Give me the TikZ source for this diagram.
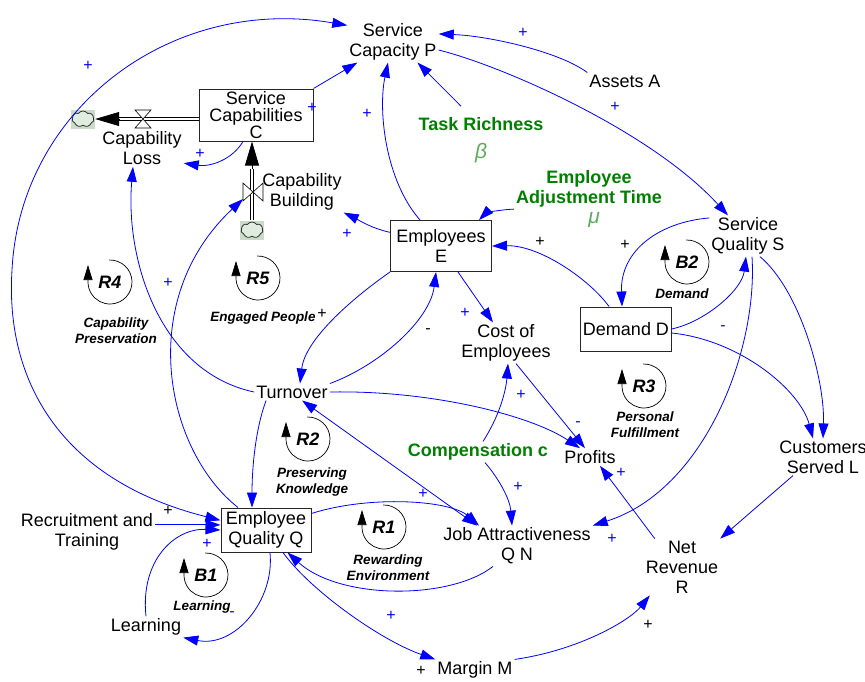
\documentclass[tikz,border=0pt]{standalone}
\usepackage{fontspec}
\setmainfont{Liberation Sans}
\usetikzlibrary{arrows.meta,shapes.symbols}
\definecolor{darkgreen}{RGB}{0,128,0}
\definecolor{greekgreen}{RGB}{95,170,95}
\definecolor{cloudgreen}{RGB}{200,220,200}
\definecolor{cloudlight}{RGB}{225,236,225}
\newcommand{\varfont}{\fontsize{18}{20}\selectfont}

\begin{document}
\begin{tikzpicture}
   [
      x=1pt, y=-1pt,
      >={Triangle[length=15pt,width=10pt]},
      var/.style={align=center, inner sep=2pt, font=\varfont},
      stock/.style={var, rectangle, draw=black!85, line width=1pt},
      param/.style={var, font=\varfont\bfseries, text=darkgreen},
      greek/.style={inner sep=1pt, font=\fontsize{21}{21}\selectfont\itshape, text=greekgreen},
      link/.style={->, draw=blue, line width=0.8pt},
      pipe/.style={draw=black, double=white, double distance=2.6pt, line width=0.7pt},
      flowtip/.style={-{Triangle[length=24pt,width=14pt]}, draw=black, line width=0.7pt},
      valve/.style={draw=black, fill=white, line width=0.6pt},
      cloudpad/.style={rectangle, fill=cloudgreen, minimum width=24pt, minimum height=19pt, inner sep=0pt},
      cloudy/.style={cloud, cloud puffs=7, cloud puff arc=110, aspect=1.5, draw=black!80, fill=cloudlight,
         line width=0.8pt, minimum width=22pt, minimum height=16pt, inner sep=0pt},
      loopline/.style={-{Triangle[length=15pt,width=9pt]}, draw=black, line width=0.7pt},
      loopname/.style={inner sep=0pt, font=\fontsize{18}{20}\selectfont\bfseries\itshape},
      loopsub/.style={align=center, inner sep=0pt, font=\fontsize{13.5}{16}\selectfont\bfseries\itshape},
      plus/.style={inner sep=0pt, text=blue, font=\fontsize{16}{16}\selectfont},
      plusk/.style={plus, text=black}
   ]
   \useasboundingbox (0,0) rectangle (865,681);

   % variables
   \node[var] (scp) at (393,42) {Service\\Capacity P};
   \node[var] (assets) at (625,81) {Assets A};
   \node[stock, minimum width=114pt, minimum height=52pt] (capab) at (256,115)
      {Service\\[-3pt]Capabilities\\[-3pt]C};
   \node[var] (loss) at (142,148) {Capability\\Loss};
   \node[var] (build) at (302,192) {Capability\\Building};
   \node[param] (task) at (481,124) {Task Richness};
   \node[greek] (beta) at (481,153) {β};
   \node[param] (adjust) at (589,189) {Employee\\Adjustment Time};
   \node[greek] (mu) at (594,220) {μ};
   \node[var] (sqs) at (748,236) {Service\\Quality S};
   \node[stock, minimum width=101pt, minimum height=51pt] (emp) at (441,246) {Employees\\E};
   \node[stock, minimum width=89pt, minimum height=44pt] (demand) at (626,329) {Demand D};
   \node[var] (cost) at (506,343) {Cost of\\Employees};
   \node[var] (turn) at (292,392) {Turnover};
   \node[var] (profits) at (590,457) {Profits};
   \node[param] (comp) at (478,452) {Compensation c};
   \node[var] (cust) at (823,457) {Customers\\Served L};
   \node[var] (ja) at (517,546) {Job Attractiveness\\Q N};
   \node[var] (net) at (682,567) {Net\\Revenue\\R};
   \node[stock, minimum width=90pt, minimum height=44pt] (eq) at (266,530) {Employee\\Quality Q};
   \node[var] (recruit) at (87,532) {Recruitment and\\Training};
   \node[var] (learn) at (146,627) {Learning};
   \node[var] (margin) at (475,670) {Margin M};

   % stock flows
   \node[cloudpad] (sink) at (83,119) {};
   \node[cloudy] (sinkcloud) at (sink) {};
   \node[cloudpad] (source) at (252,230) {};
   \node[cloudy] (sourcecloud) at (source) {};
   \coordinate (losstip) at (sink.east);
   \coordinate (buildtip) at (capab.south -| source);
   \coordinate (lvalve) at (143,119);
   \coordinate (bvalve) at (253,192);
   \draw[pipe] (capab.west |- sink) -- ([xshift=24pt]losstip);
   \draw[flowtip] ([xshift=24pt]losstip) -- (losstip);
   \draw[pipe] (source.north) -- ([yshift=-27pt]buildtip);
   \draw[flowtip] ([yshift=-27pt]buildtip) -- (buildtip);
   \filldraw[valve] (lvalve) ++(-8,-9) -- ++(16,0) -- ++(-16,18) -- ++(16,0) -- cycle;
   \filldraw[valve] (bvalve) ++(-10,-9) -- ++(0,18) -- ++(20,-18) -- ++(0,18) -- cycle;

   % causal links
   \draw[link, <->] (eq.168) .. controls (60,480) and (5,380) .. (12,270)
      .. controls (20,110) and (170,-5) .. (scp.160);
   \draw[link] (recruit.6) -- (recruit.6 -| eq.west);
   \draw[link] (learn.north) .. controls (140,560) and (175,528) .. (eq.west);
   \draw[link] (eq.-80) .. controls (275,600) and (235,648) .. (learn.south east);
   \draw[link] ([xshift=12pt]turn.south west) .. controls (255,430) and (252,470) .. ([xshift=-14pt]eq.north);
   \draw[link] ([xshift=-28pt]eq.north) .. controls (165,450) and (135,300) .. ([xshift=-10pt,yshift=-7pt]bvalve);
   \draw[link] (turn.west) .. controls (160,372) and (125,260) .. ([xshift=-9pt]loss.south);
   \draw[link] ([xshift=-13pt]capab.south) .. controls (232,160) and (210,167) .. (loss.-20);
   \draw[link] (capab.north east) -- (scp.-150);
   \draw[link] ([xshift=-21pt]emp.north) .. controls (385,180) and (378,110) .. ([xshift=-5pt]scp.south);
   \draw[link] ([xshift=-20pt,yshift=9pt]task.north) -- (scp.-40);
   \draw[link] (assets.north west) .. controls (560,52) and (490,36) .. (scp.10);
   \draw[link] (scp.-10) .. controls (500,65) and (650,130) .. ([xshift=-20pt]sqs.north);
   \draw[link] (emp.165) .. controls (370,228) and (355,218) .. (build.south east);
   \draw[link] (adjust.195) .. controls (495,210) and (485,214) .. ([xshift=38pt]emp.north);
   \draw[link] ([xshift=-17pt]demand.north) .. controls (590,280) and (540,245) .. (emp.east);
   \draw[link] (sqs.155) .. controls (660,222) and (620,250) .. ([xshift=-4pt]demand.north);
   \draw[link] (demand.east) .. controls (705,322) and (742,290) .. ([xshift=-2pt]sqs.south);
   \draw[link] (demand.-5) .. controls (740,340) and (800,390) .. ([xshift=-10pt]cust.north);
   \draw[link] (sqs.-60) .. controls (800,290) and (825,380) .. (cust.north);
   \draw[link] ([xshift=4pt]sqs.south) .. controls (758,350) and (705,490) .. (ja.north east);
   \draw[link] ([xshift=17pt]emp.south) -- ([xshift=-13pt]cost.north);
   \draw[link] (emp.south west) .. controls (350,300) and (305,340) .. ([xshift=8pt]turn.north);
   \draw[link] (turn.north east) .. controls (380,365) and (430,320) .. ([xshift=-5pt]emp.south);
   \draw[link] (turn.east) .. controls (430,390) and (530,415) .. ([xshift=-10pt]profits.north);
   \draw[link] ([xshift=10pt]cost.south) -- ([xshift=-5pt]profits.north);
   \draw[link] ([xshift=5pt]comp.north) .. controls (500,415) and (506,390) .. ([xshift=2pt]cost.south);
   \draw[link] ([xshift=7pt]comp.south) .. controls (500,480) and (510,500) .. ([xshift=-5pt]ja.north);
   \draw[link, <->] (turn.-40) -- ([xshift=-40pt]ja.north);
   \draw[link] (eq.20) .. controls (370,495) and (450,500) .. ([xshift=-38pt]ja.north);
   \draw[link] ([xshift=-24pt]ja.south) .. controls (450,600) and (340,600) .. ([xshift=-24pt]eq.south east);
   \draw[link] ([xshift=17pt]eq.south) .. controls (310,590) and (380,640) .. (margin.north west);
   \draw[link] (margin.north east) .. controls (580,650) and (630,620) .. ([xshift=6pt]net.south west);
   \draw[link] ([xshift=-30pt]cust.south) -- (net.north east);
   \draw[link] ([xshift=11pt]net.north west) -- ([xshift=10pt]profits.south);

   % loop markers
   \foreach \nm/\cx/\cy/\sx/\sy/\txt in {
      R4/110/282/116/331/{Capability\\Preservation},
      R5/258/278/263/318/{Engaged People},
      B2/687/262/682/294/{Demand},
      R3/644/386/645/425/{Personal\\Fulfillment},
      R2/308/439/312/482/{Preserving\\Knowledge},
      R1/384/527/388/568/{Rewarding\\Environment},
      B1/206/575/202/607/{Learning}} {
      \draw[loopline] (\cx,\cy) ++(-92:22) arc[start angle=-92, end angle=180, radius=22] -- ++(0,-17);
      \node[loopname] (loop\nm) at (\cx,\cy) {\nm};
      \node[loopsub] (sub\nm) at (\sx,\sy) {\txt};
   }

   % polarities
   \foreach \x/\y [count=\i] in {88/66, 312/108, 367/114, 523/33, 615/107, 200/154, 347/234, 168/283,
         465/313, 521/395, 518/487, 423/494, 612/539, 621/473, 207/544, 391/616}
      \node[plus] (plus\i) at (\x,\y) {+};
   \foreach \x/\y [count=\i] in {578/424, 723/328, 232/614}
      \node[plus] (minus\i) at (\x,\y) {-};
   \foreach \x/\y [count=\i] in {168/511, 322/314, 540/242, 625/245, 648/625, 421/671}
      \node[plusk] (kplus\i) at (\x,\y) {+};
   \node[plusk] (kminus1) at (428,331) {-};
\end{tikzpicture}
\end{document}
